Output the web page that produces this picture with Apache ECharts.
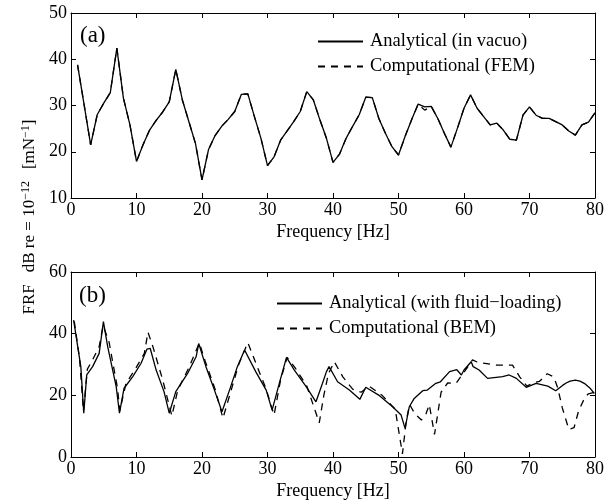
<!DOCTYPE html>
<html><head><meta charset="utf-8">
<script src="https://cdn.jsdelivr.net/npm/echarts@6/dist/echarts.min.js"></script>
<style>html,body{margin:0;padding:0;background:#fff}#c{width:616px;height:504px}</style>
</head><body><div id="c"></div>
<script>
// ---- Panel (a) data ----
var freqA = [1,2,3,4,5,6,7,8,9,10,11,12,13,14,15,16,17,18,19,20,21,22,23,24,25,26,27,28,29,30,31,32,33,34,35,36,37,38,39,40,41,42,43,44,45,46,47,48,49,50,51,52,53,54,55,56,57,58,59,60,61,62,63,64,65,66,67,68,69,70,71,72,73,74,75,76,77,78,79,80];
var analyticalVacuo = [38.8,30.2,21.5,28,30.5,32.8,42.4,31.6,25.8,17.9,21.5,24.7,26.8,28.6,30.8,37.8,31.2,26.5,21.8,13.9,20.5,23.5,25.5,27,28.7,32.4,32.5,27.6,22.9,17,18.9,22.5,24.5,26.5,28.7,33,31.2,26.9,22.9,17.7,19.5,22.9,25.5,28,31.8,31.7,27.2,24,21.1,19.3,23.3,26.9,30.3,29.7,29.8,27.2,24,21,25.1,29.4,32.3,29.4,27.6,25.8,26.2,24.7,22.7,22.5,27.9,29.7,27.9,27.2,27.2,26.5,25.8,24.5,23.6,25.8,26.4,28.4];
var computationalFEM = [38.8,30.2,21.5,28,30.5,32.8,42.4,31.6,25.8,17.9,21.5,24.7,26.8,28.6,30.8,37.8,31.2,26.5,21.8,13.9,20.5,23.5,25.5,27,28.7,32.4,32.5,27.6,22.9,17,18.9,22.5,24.5,26.5,28.7,33,31.2,26.9,22.9,17.7,19.5,22.9,25.5,28,31.8,31.7,27.2,24,21.1,19.3,23.3,26.9,30.3,29.0,29.8,27.2,24,21,25.1,29.4,32.3,29.4,27.6,25.8,26.2,24.7,22.7,22.5,27.9,29.7,27.9,27.2,27.2,26.5,25.8,24.5,23.6,25.8,26.4,28.4];

// ---- Panel (b) data ----
var freqFluid = [0.4,1.5,1.95,2.4,3.3,4.3,4.95,5.6,6.9,7.4,8.1,9.4,10.7,11.6,12.1,13,14.2,15,16,17.8,19.1,19.5,20.6,21.9,23.05,24.2,25.4,26.5,28.2,29.8,30.7,31.8,32.9,34.1,35.9,37.4,38.4,39,39.4,40.7,42.5,44.1,45,47.1,49.1,50.4,51,51.65,52.4,53.7,54.4,55.7,56.4,57.8,58.9,59.6,60,61.1,61.4,62.3,63.6,65.9,66.9,68,69.5,71,72.8,74,75.1,75.6,76.2,77,77.7,78.5,79.3,79.9];
var analyticalFluid = [44.4,29.3,14.2,26.6,29.3,33.6,43.9,35.8,22.8,14.2,22.3,26,30.4,35,35.2,28.2,21.2,14.2,21.2,27.1,32.5,36.8,29.3,21.7,14.7,21.7,29.3,34.7,27.7,21.7,15.2,23.9,32.3,28.2,22.8,17.9,23.9,27.7,29.3,24.4,21.7,18.7,22.6,19.9,16.3,13.6,9.3,16.3,19,21.5,21.7,23.9,24.4,27.7,28.3,26.6,28.2,30.9,29.3,28.2,25.5,26.1,26.6,25.5,22.6,23.9,23,21.5,23.3,24,24.6,24.9,24.6,23.7,22.2,20.6];
var freqBEM = [0.5,1.3,1.9,2.5,3.3,4.3,4.9,5.8,7.1,7.45,8.4,9.9,11.2,11.75,12.5,14,15.4,16.3,18,19.6,20.5,22,23.2,24.5,25.6,27,28.3,29.8,31,32,33,34.2,36,37.9,38.6,39.3,40.2,41.5,43,44.3,45.5,47.5,49.5,50.6,51.2,51.7,52.5,53.5,54.2,54.7,55.5,56.5,57.5,58.8,60.5,61.3,62,62.8,63.5,65,66.5,67.4,68.5,69.6,70.5,71.5,72.7,73.7,74.3,75,76,76.8,77.5,78.5,79,80];
var computationalBEM = [44,32,15,28.5,31.5,35.8,42.6,37.4,22.3,15,23.9,28.8,33.6,40.5,35.8,25,13.3,21.7,29,37,31,22,12.6,22,30,37.1,30,22,13.6,25,32.3,29,23,11.1,20,27,30.9,26,22,21,23,20,15.5,1,12,17,14,12,14,17,7.3,21,24,23.9,29,31.5,30.8,30.5,30.3,29.8,29.8,29.8,26,23,24,24.5,27,26,22.5,16,9,9.5,15,19.5,20.5,21];

var xTicks = [0,10,20,30,40,50,60,70,80];
var yTicksA = [10,20,30,40,50];
var yTicksB = [0,20,40,60];

function pairs(xs, ys){ return xs.map(function(x,i){ return [x, ys[i]]; }); }

var FONT = 'Liberation Serif';
var chart = echarts.init(document.getElementById('c'), null, {renderer:'canvas'});

var G = [{left:71, top:13, width:524, height:185}, {left:71, top:272, width:524, height:185}];

function xAx(gi, pos, show, name){
  return {type:'value', gridIndex:gi, position:pos, min:xTicks[0], max:xTicks[xTicks.length-1], interval:10,
    axisLine:{show:true, onZero:false, lineStyle:{color:'#000', width:1}},
    axisTick:{show:true, inside:true, length:5, lineStyle:{color:'#000'}},
    axisLabel:{show:show, color:'#000', fontFamily:FONT, fontSize:18, margin:3},
    splitLine:{show:false},
    name: name || '', nameLocation:'middle', nameGap:25,
    nameTextStyle:{color:'#000', fontFamily:FONT, fontSize:18}};
}
function yAx(gi, pos, show, ticks){
  return {type:'value', gridIndex:gi, position:pos, min:ticks[0], max:ticks[ticks.length-1], interval:ticks[1]-ticks[0],
    axisLine:{show:true, onZero:false, lineStyle:{color:'#000', width:1}},
    axisTick:{show:true, inside:true, length:5, lineStyle:{color:'#000'}},
    axisLabel:{show:show, color:'#000', fontFamily:FONT, fontSize:18, margin:4},
    splitLine:{show:false}};
}

var solid = {color:'#000', width:1.3, type:'solid'};
var dashed = {color:'#000', width:1.3, type:[7,6]};

var legendCommon = {orient:'vertical', padding:0, itemWidth:45, itemHeight:12,
  itemStyle:{opacity:0},
  textStyle:{color:'#000', fontFamily:FONT, fontSize:18.5, padding:[0,0,0,2]}};

chart.setOption({
  animation:false,
  backgroundColor:'#fff',
  grid:G,
  xAxis:[xAx(0,'bottom',true,'Frequency [Hz]'), xAx(0,'top',false), xAx(1,'bottom',true,'Frequency [Hz]'), xAx(1,'top',false)],
  yAxis:[yAx(0,'left',true,yTicksA), yAx(0,'right',false,yTicksA), yAx(1,'left',true,yTicksB), yAx(1,'right',false,yTicksB)],
  legend:[
    Object.assign({data:['Analytical (in vacuo)','Computational (FEM)'], left:317, top:32, itemGap:6}, legendCommon),
    Object.assign({data:['Analytical (with fluid\u2212loading)','Computational (BEM)'], left:276, top:294, itemGap:6}, legendCommon)
  ],
  series:[
    {name:'Analytical (in vacuo)', type:'line', xAxisIndex:0, yAxisIndex:0, data:pairs(freqA, analyticalVacuo), showSymbol:false, symbol:'none', lineStyle:solid, itemStyle:{color:'#000'}, z:3},
    {name:'Computational (FEM)', type:'line', xAxisIndex:0, yAxisIndex:0, data:pairs(freqA, computationalFEM), showSymbol:false, symbol:'none', lineStyle:dashed, itemStyle:{color:'#000'}, z:2},
    {name:'Analytical (with fluid\u2212loading)', type:'line', xAxisIndex:2, yAxisIndex:2, data:pairs(freqFluid, analyticalFluid), showSymbol:false, symbol:'none', lineStyle:solid, itemStyle:{color:'#000'}, z:3},
    {name:'Computational (BEM)', type:'line', xAxisIndex:2, yAxisIndex:2, data:pairs(freqBEM, computationalBEM), showSymbol:false, symbol:'none', lineStyle:dashed, itemStyle:{color:'#000'}, z:2}
  ],
  graphic:[
    {type:'text', left:80, top:24, style:{text:'(a)', fill:'#000', font:'23px "Liberation Serif"'}},
    {type:'text', left:79, top:284, style:{text:'(b)', fill:'#000', font:'23px "Liberation Serif"'}},
    {type:'text', x:30, y:217, rotation:Math.PI/2,
     style:{text:'FRF{g|\u00a0}dB re = 10{sup|\u221212}{g|\u00a0}[mN{sup|\u22121}]', fill:'#000', font:'17px "Liberation Serif"', align:'center', verticalAlign:'middle',
       rich:{sup:{fontSize:12, fontFamily:FONT, verticalAlign:'top', padding:[0,0,9,0], fill:'#000'},
             g:{width:12, fontSize:17, fontFamily:FONT}}}}
  ]
});
</script></body></html>
